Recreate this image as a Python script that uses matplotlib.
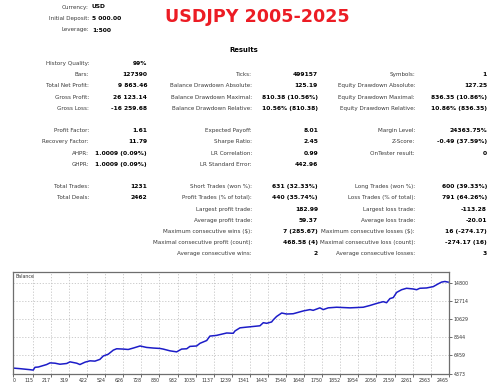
import matplotlib
matplotlib.use("Agg")
import matplotlib.pyplot as plt
from matplotlib.ticker import FixedLocator, FixedFormatter

W, H = 500, 390

# ---------------- data ----------------
title = "USDJPY 2005-2025"
header_labels = ["Currency:", "Initial Deposit:", "Leverage:"]
header_values = ["USD", "5 000.00", "1:500"]

col1_labels = ["History Quality:", "Bars:", "Total Net Profit:", "Gross Profit:", "Gross Loss:", "",
               "Profit Factor:", "Recovery Factor:", "AHPR:", "GHPR:", "",
               "Total Trades:", "Total Deals:"]
col1_values = ["99%", "127390", "9 863.46", "26 123.14", "-16 259.68", "",
               "1.61", "11.79", "1.0009 (0.09%)", "1.0009 (0.09%)", "",
               "1231", "2462"]
col2_labels = ["", "Ticks:", "Balance Drawdown Absolute:", "Balance Drawdown Maximal:",
               "Balance Drawdown Relative:", "",
               "Expected Payoff:", "Sharpe Ratio:", "LR Correlation:", "LR Standard Error:", "",
               "Short Trades (won %):", "Profit Trades (% of total):", "Largest profit trade:",
               "Average profit trade:", "Maximum consecutive wins ($):",
               "Maximal consecutive profit (count):", "Average consecutive wins:"]
col2_values = ["", "499157", "125.19", "810.38 (10.56%)", "10.56% (810.38)", "",
               "8.01", "2.45", "0.99", "442.96", "",
               "631 (32.33%)", "440 (35.74%)", "182.99", "59.37", "7 (285.67)",
               "468.58 (4)", "2"]
col3_labels = ["", "Symbols:", "Equity Drawdown Absolute:", "Equity Drawdown Maximal:",
               "Equity Drawdown Relative:", "",
               "Margin Level:", "Z-Score:", "OnTester result:", "", "",
               "Long Trades (won %):", "Loss Trades (% of total):", "Largest loss trade:",
               "Average loss trade:", "Maximum consecutive losses ($):",
               "Maximal consecutive loss (count):", "Average consecutive losses:"]
col3_values = ["", "1", "127.25", "836.35 (10.86%)", "10.86% (836.35)", "",
               "24363.75%", "-0.49 (37.59%)", "0", "", "",
               "600 (39.33%)", "791 (64.26%)", "-113.28", "-20.01", "16 (-274.17)",
               "-274.17 (16)", "3"]

deals = [0, 41, 98, 116, 126, 145, 192, 211, 239, 267,
         305, 324, 362, 380, 409, 437, 465, 493, 512, 540,
         569, 588, 625, 653, 682, 720, 757, 795, 833, 851,
         889, 927, 955, 984, 1002, 1040, 1059, 1097, 1115, 1153,
         1210, 1247, 1257, 1285, 1323, 1341, 1398, 1417, 1436, 1464,
         1473, 1492, 1521, 1549, 1586, 1643, 1681, 1699, 1737, 1756,
         1784, 1832, 1869, 1907, 1982, 2020, 2058, 2095, 2114, 2133,
         2152, 2171, 2199, 2227, 2265, 2284, 2302, 2340, 2378, 2406,
         2425, 2444, 2462]
balance = [5000, 4929, 4811, 4763, 5083, 5118, 5402, 5592, 5556, 5438,
           5521, 5710, 5556, 5402, 5674, 5828, 5793, 5994, 6384, 6585,
           7058, 7212, 7177, 7129, 7295, 7532, 7366, 7295, 7248, 7177,
           6976, 6857, 7177, 7212, 7484, 7532, 7839, 8159, 8667, 8750,
           9022, 8987, 9259, 9614, 9697, 9732, 9851, 10206, 10134, 10289,
           10525, 10916, 11317, 11199, 11234, 11554, 11708, 11625, 11908, 11708,
           11909, 11980, 11944, 11909, 11980, 12181, 12418, 12619, 12500, 12973,
           13091, 13683, 13991, 14156, 14074, 13991, 14156, 14192, 14346, 14665,
           14866, 14937, 14863]
assert len(deals) == len(balance)

xtick_values = [0, 115, 217, 319, 422, 524, 626, 728, 830, 932, 1035, 1137, 1239,
                1341, 1443, 1546, 1648, 1750, 1852, 1954, 2056, 2159, 2261, 2363, 2465]
ytick_values = [4373, 6459, 8544, 10629, 12714, 14800]

# ---------------- figure ----------------
fig = plt.figure(figsize=(W / 100, H / 100), dpi=100)
fig.patch.set_facecolor("white")
renderer = fig.canvas.get_renderer()


def fx(x):
    return x / W


def fy(y):
    return 1 - y / H


def fit_size(s, target_px, weight="normal", family="DejaVu Sans"):
    t = fig.text(0, 0, s, fontsize=10, fontweight=weight, family=family)
    w = t.get_window_extent(renderer).width
    t.remove()
    return 10 * target_px / w


FAM = "DejaVu Sans"
lab_fs = fit_size("Maximal consecutive loss (count):", 95)
val_fs = fit_size("836.35 (10.86%)", 56, "bold")
title_fs = fit_size(title, 185, "bold")
lab_col = "#3a3a3a"
val_col = "#000000"

# header
for i, (l, v) in enumerate(zip(header_labels, header_values)):
    y = 7 + i * 11.5
    fig.text(fx(89), fy(y), l, ha="right", va="center", fontsize=lab_fs, color=lab_col, family=FAM)
    fig.text(fx(92), fy(y), v, ha="left", va="center", fontsize=val_fs, fontweight="bold",
             color=val_col, family=FAM)

fig.text(fx(257), fy(17.5), title, ha="center", va="center", fontsize=title_fs,
         fontweight="bold", color="#ec1c24", family=FAM)
fig.text(fx(244), fy(50), "Results", ha="center", va="center", fontsize=val_fs * 1.15,
         fontweight="bold", color="#000000", family=FAM)

row_y0, row_dy = 63.5, 11.2
cols = [(col1_labels, col1_values, 89, 147),
        (col2_labels, col2_values, 252, 318),
        (col3_labels, col3_values, 415, 487)]
for labels, values, lx, vx in cols:
    for i, (l, v) in enumerate(zip(labels, values)):
        y = row_y0 + i * row_dy
        if l:
            fig.text(fx(lx), fy(y), l, ha="right", va="center", fontsize=lab_fs,
                     color=lab_col, family=FAM)
        if v:
            fig.text(fx(vx), fy(y), v, ha="right", va="center", fontsize=val_fs,
                     fontweight="bold", color=val_col, family=FAM)

# ---------------- balance chart ----------------
L, R, T, B = 12.7, 449, 272.3, 373.5
ax = fig.add_axes([fx(L), fy(B), (R - L) / W, (B - T) / H])
ax.plot(deals, balance, color="#1c1cc8", lw=1.1, solid_joinstyle="round")
ax.set_xlim(0, 2467)
ax.set_ylim(4373, 15990)

ax.xaxis.set_major_locator(FixedLocator(xtick_values))
ax.xaxis.set_major_formatter(FixedFormatter([str(v) for v in xtick_values]))
ax.yaxis.set_major_locator(FixedLocator(ytick_values))
ax.yaxis.set_major_formatter(FixedFormatter([str(v) for v in ytick_values]))
ax.yaxis.tick_right()
tick_fs = val_fs * 0.8
ax.tick_params(axis="both", labelsize=tick_fs, colors="#333333", length=2, width=0.5, pad=1.5)
for i, lbl in enumerate(ax.get_xticklabels()):
    lbl.set_ha("left" if i == 0 else "right")
ax.grid(True, color="#c4c4c4", lw=0.6, ls=(0, (1.5, 2)))
for sp in ax.spines.values():
    sp.set_color("#6e6e6e")
    sp.set_linewidth(0.9)
ax.text(0.007, 0.955, "Balance", transform=ax.transAxes, ha="left", va="center",
        fontsize=tick_fs, color="#333333", family=FAM)

fig.savefig("out.png", dpi=100, facecolor="white")
